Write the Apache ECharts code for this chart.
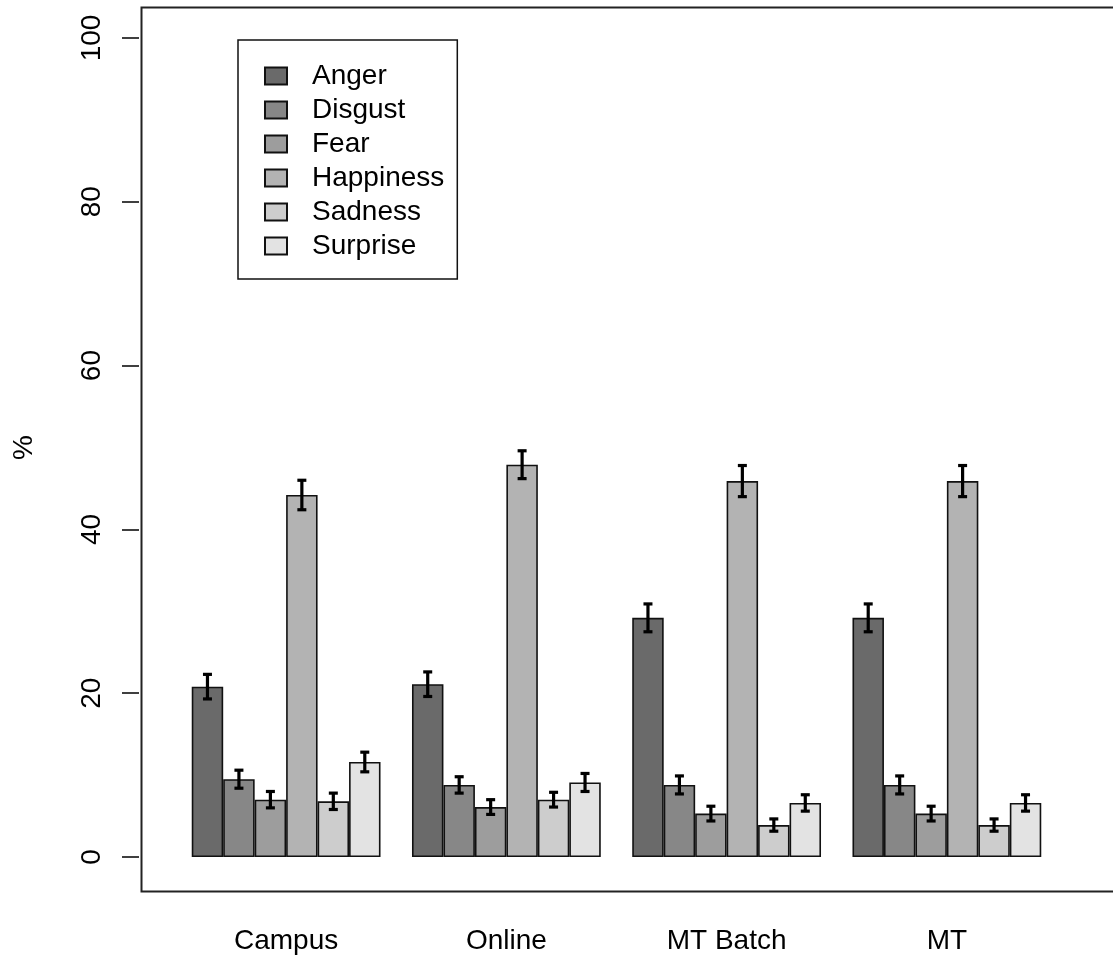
<!DOCTYPE html>
<html>
<head>
    <meta charset="utf-8">
    <title>Emotion ratings</title>
    <script src="https://cdn.jsdelivr.net/npm/echarts@6/dist/echarts.min.js"></script>
    <style>
        html, body { margin: 0; padding: 0; background: #fff; }
        #main { width: 1113px; height: 958px; }
    </style>
</head>
<body>
<div id="main"></div>
<script type="text/javascript">
    // data
    var groups = ['Campus', 'Online', 'MT Batch', 'MT'];
    var emotions = ['Anger', 'Disgust', 'Fear', 'Happiness', 'Sadness', 'Surprise'];
    var yTicks = [0, 20, 40, 60, 80, 100];

    // percent per emotion, one value per group
    var anger     = [20.8, 21.1, 29.2, 29.2];
    var disgust   = [9.5, 8.8, 8.8, 8.8];
    var fear      = [7.0, 6.1, 5.3, 5.3];
    var happiness = [44.2, 47.9, 45.9, 45.9];
    var sadness   = [6.8, 7.0, 3.9, 3.9];
    var surprise  = [11.6, 9.1, 6.6, 6.6];

    // half length of the error bars
    var angerErr     = [1.5, 1.5, 1.7, 1.7];
    var disgustErr   = [1.1, 1.0, 1.1, 1.1];
    var fearErr      = [1.0, 0.9, 0.9, 0.9];
    var happinessErr = [1.8, 1.7, 1.9, 1.9];
    var sadnessErr   = [1.0, 0.9, 0.75, 0.75];
    var surpriseErr  = [1.2, 1.1, 1.0, 1.0];

    var values = [anger, disgust, fear, happiness, sadness, surprise];
    var errs = [angerErr, disgustErr, fearErr, happinessErr, sadnessErr, surpriseErr];
    var colors = ['#6a6a6a', '#878787', '#9d9d9d', '#b3b3b3', '#cdcdcd', '#e3e3e3'];

    var font = '"Liberation Sans", Arial, Helvetica, sans-serif';

    // error bar items: [group, emotion, low, high]
    var errData = [];
    for (var g = 0; g < groups.length; g++) {
        for (var e = 0; e < emotions.length; e++) {
            errData.push([g, e, values[e][g] - errs[e][g], values[e][g] + errs[e][g]]);
        }
    }

    function renderErr(params, api) {
        var g = api.value(0), e = api.value(1);
        var band = api.size([1, 0])[0];
        var barW = band * (6 / 7) / 6;
        var cx = api.coord([g, 0])[0] - 3 * barW + (e + 0.5) * barW;
        var lo = api.coord([g, api.value(2)])[1];
        var hi = api.coord([g, api.value(3)])[1];
        var cap = 4.5;
        var st = { stroke: '#000', lineWidth: 3.2 };
        return {
            type: 'group',
            children: [
                { type: 'line', shape: { x1: cx, y1: lo, x2: cx, y2: hi }, style: st },
                { type: 'line', shape: { x1: cx - cap, y1: lo, x2: cx + cap, y2: lo }, style: st },
                { type: 'line', shape: { x1: cx - cap, y1: hi, x2: cx + cap, y2: hi }, style: st }
            ]
        };
    }

    var series = emotions.map(function (name, i) {
        return {
            name: name,
            type: 'bar',
            data: values[i],
            barGap: '0%',
            barCategoryGap: '14.2857%',
            itemStyle: { color: colors[i], borderColor: '#111', borderWidth: 1.6 },
            emphasis: { disabled: true }
        };
    });
    series.push({
        name: 'err',
        type: 'custom',
        data: errData,
        renderItem: renderErr,
        z: 5,
        silent: true
    });

    var chart = echarts.init(document.getElementById('main'));
    chart.setOption({
        animation: false,
        textStyle: { fontFamily: font },
        grid: { left: 176, width: 881, top: 38, height: 819, outerBoundsMode: 'none' },
        legend: {
            data: emotions,
            orient: 'vertical',
            left: 238,
            top: 40,
            icon: 'rect',
            itemWidth: 22,
            itemHeight: 17,
            itemGap: 6,
            padding: [22, 13, 19, 26],
            borderColor: '#111',
            borderWidth: 1.5,
            textStyle: {
                fontSize: 28, lineHeight: 28, color: '#000', fontFamily: font,
                padding: [0, 0, 0, 20]
            }
        },
        xAxis: {
            type: 'category',
            data: groups,
            axisLine: { show: false },
            axisTick: { show: false },
            axisLabel: { fontSize: 28, color: '#000', margin: 70, fontFamily: font }
        },
        yAxis: {
            type: 'value',
            min: yTicks[0],
            max: yTicks[yTicks.length - 1],
            interval: 20,
            offset: 37,
            name: '%',
            nameLocation: 'middle',
            nameGap: 101,
            nameRotate: 90,
            nameTextStyle: { fontSize: 28, color: '#000', fontFamily: font },
            splitLine: { show: false },
            axisLine: { show: false },
            axisTick: { show: true, length: 17, lineStyle: { color: '#000', width: 1.5 } },
            axisLabel: { rotate: 90, fontSize: 28, color: '#000', margin: 33, fontFamily: font }
        },
        graphic: [{
            type: 'rect',
            left: 139,
            top: 5,
            shape: { width: 1100, height: 884 },
            style: { fill: 'none', stroke: '#222', lineWidth: 2 },
            silent: true
        }],
        series: series
    });
</script>
</body>
</html>
